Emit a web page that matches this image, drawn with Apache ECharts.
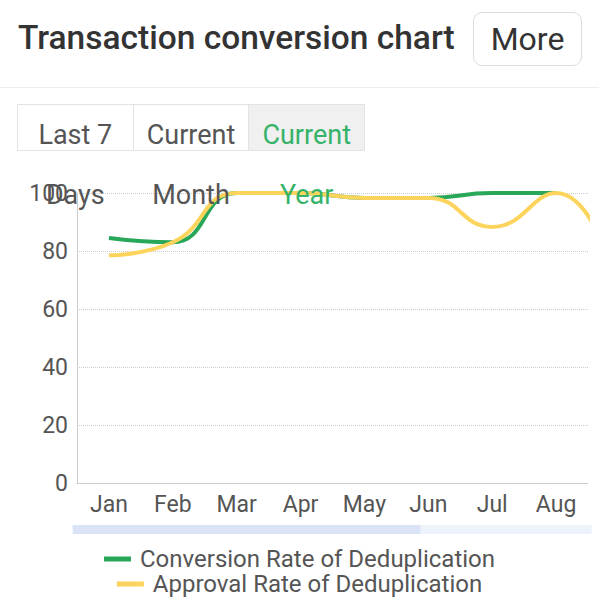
<!DOCTYPE html>
<html>
<head>
<meta charset="utf-8">
<script src="https://cdn.jsdelivr.net/npm/echarts@6/dist/echarts.min.js"></script>
<style>
  html, body { margin:0; padding:0; background:#fff; width:599px; height:601px; overflow:hidden; font-family: Roboto, "Noto Sans", sans-serif; }
  #chart { position:absolute; left:0; top:0; width:599px; height:601px; }
  .ov { position:absolute; z-index:2; pointer-events:none; }
  #title { left:18px; top:16px; font-size:33.5px; font-weight:500; color:#333; line-height:44px; white-space:nowrap; }
  #more { left:473px; top:12px; width:107px; height:52px; border:1px solid #dcdcdc; border-radius:9px; font-size:32px; color:#333; line-height:52px; text-align:center; box-sizing:content-box; }
  #sep { left:0; top:87px; width:599px; height:1px; background:#ededed; }
  #tabs { left:17px; top:104px; width:348px; height:47px; border:1px solid #e3e3e3; box-sizing:border-box; display:flex; }
  .tab { height:45px; flex:1; text-align:center; font-size:27px; line-height:60px; color:#555; white-space:nowrap; overflow:visible; }
  .tab + .tab { border-left:1px solid #e3e3e3; }
  .tab.active { background:#f0f0f0; color:#35b36a; }
</style>
</head>
<body>
<div id="chart"></div>
<div class="ov" id="title">Transaction conversion chart</div>
<div class="ov" id="more">More</div>
<div class="ov" id="sep"></div>
<div class="ov" id="tabs"></div>
<script>
const titleText = 'Transaction conversion chart';
const tabLines = [['Last 7', 'Days'], ['Current', 'Month'], ['Current', 'Year']];
const activeTab = 2;
const months = ['Jan','Feb','Mar','Apr','May','Jun','Jul','Aug','Sep','Oct','Nov','Dec'];
const conversionRate = [84.5, 83, 100, 100, 98.3, 98.3, 100, 100, '-', '-', '-', '-'];
const approvalRate = [78.5, 83, 100, 100, 98.3, 98.3, 88.3, 100, 65, '-', '-', '-'];
const seriesNames = ['Conversion Rate of Deduplication', 'Approval Rate of Deduplication'];
const yTicks = { min: 0, max: 100, interval: 20 };

const tabs = document.getElementById('tabs');
tabLines.forEach((lines, i) => {
  const d = document.createElement('div');
  d.className = 'tab' + (i === activeTab ? ' active' : '');
  d.innerHTML = lines.join('<br>');
  tabs.appendChild(d);
});

const chart = echarts.init(document.getElementById('chart'), null, { renderer: 'svg' });
const font = 'Roboto';
const legendText = { fontSize: 24, lineHeight: 22, color: '#555', fontFamily: font, padding: [0, 0, 0, 4] };
chart.setOption({
  animation: false,
  color: ['#27a757', '#fcd45c'],
  grid: { left: 77, right: 11, top: 193, bottom: 118, containLabel: false },
  legend: [
    { data: [seriesNames[0]], left: 'center', top: 547, itemWidth: 27, itemHeight: 5, icon: 'rect', padding: 0,
      textStyle: legendText },
    { data: [seriesNames[1]], left: 'center', top: 572, itemWidth: 27, itemHeight: 5, icon: 'rect', padding: 0,
      textStyle: legendText }
  ],
  xAxis: {
    type: 'category', data: months, boundaryGap: true,
    axisLine: { lineStyle: { color: '#cccccc', width: 1 } },
    axisTick: { show: false },
    axisLabel: { fontSize: 23, color: '#555', fontFamily: font, margin: 10 }
  },
  yAxis: {
    type: 'value', min: yTicks.min, max: yTicks.max, interval: yTicks.interval,
    axisLine: { show: true, lineStyle: { color: '#cccccc', width: 1 } },
    axisTick: { show: false },
    axisLabel: { fontSize: 23, color: '#555', fontFamily: font, margin: 9 },
    splitLine: { lineStyle: { color: '#cccccc', type: 'dotted', width: 1 } }
  },
  dataZoom: [{
    type: 'slider', xAxisIndex: 0, start: 0, end: 67, filterMode: 'none',
    left: 72, right: 8, top: 525, height: 9,
    showDetail: false, showDataShadow: false, brushSelect: false,
    moveHandleSize: 0, handleSize: 0, handleStyle: { opacity: 0 },
    borderColor: 'transparent', borderRadius: 5,
    backgroundColor: '#eef2fb', fillerColor: '#dbe4f6',
    dataBackground: { lineStyle: { opacity: 0 }, areaStyle: { opacity: 0 } }
  }],
  series: [
    { name: seriesNames[0], type: 'line', data: conversionRate, smooth: true, showSymbol: false,
      lineStyle: { width: 4 } },
    { name: seriesNames[1], type: 'line', data: approvalRate, smooth: true, showSymbol: false,
      lineStyle: { width: 4 } }
  ]
});
</script>
</body>
</html>
